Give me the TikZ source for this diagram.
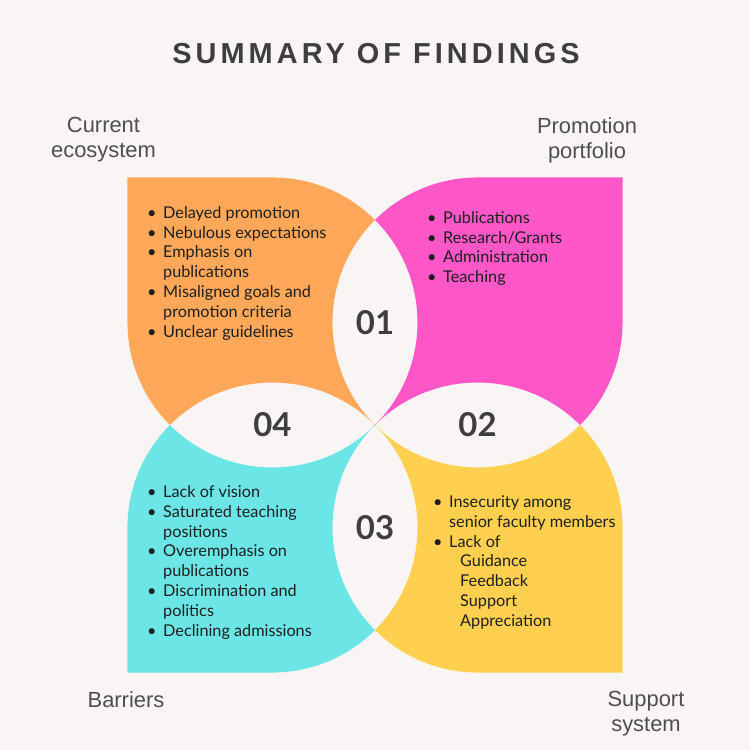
\documentclass[tikz,border=0pt]{standalone}
\usepackage{fontspec}
\setmainfont{Lato}
\newfontfamily\headfont[LetterSpace=14]{Liberation Sans}
\newfontfamily\labelfont{Liberation Sans}
\usepackage{tikz}
\usetikzlibrary{positioning}
\definecolor{PageBg}{RGB}{249,245,244}
\definecolor{PetalOrange}{RGB}{255,168,90}
\definecolor{PetalPink}{RGB}{255,87,199}
\definecolor{PetalYellow}{RGB}{255,208,79}
\definecolor{PetalCyan}{RGB}{108,229,231}
\definecolor{NumGray}{RGB}{62,62,62}
\definecolor{LabelGray}{RGB}{78,78,78}
\newcommand{\bl}{\makebox[16bp][l]{\textbullet}}
\newcommand{\ind}{\hspace*{16bp}}

\begin{document}
\begin{tikzpicture}[
  x=1bp, y=1bp,
  list/.style={anchor=north west, inner sep=0pt, align=left, text=black!88,
    font=\fontsize{16.3}{20}\selectfont},
  num/.style={inner sep=0pt, text=NumGray, font=\fontsize{33}{33}\selectfont\bfseries},
  lbl/.style={inner sep=0pt, align=center, text=LabelGray,
    font=\labelfont\fontsize{22}{25}\selectfont},
]
  \def\petalR{145}
  \def\petalA{102.53}
  \def\petalS{247.53}

  % page
  \fill[PageBg] (-375,-325) rectangle (375,425);
  \useasboundingbox (-375,-325) rectangle (375,425);

  % petals (orange one turned round the middle)
  \foreach \ang/\col in {0/PetalOrange, -90/PetalPink, -180/PetalYellow, 90/PetalCyan} {
    \fill[\col, rotate=\ang] (-\petalS,\petalS) -- (-\petalA,\petalS)
      arc[start angle=90, end angle=45, radius=\petalR]
      arc[start angle=135, end angle=225, radius=\petalR]
      arc[start angle=45, end angle=135, radius=\petalR]
      arc[start angle=225, end angle=180, radius=\petalR]
      -- cycle;
  }

  % title
  \node[inner sep=0pt, text=NumGray, font=\headfont\bfseries\fontsize{29}{29}\selectfont]
    (title) at (1,371.5) {SUMMARY OF FINDINGS};

  % numbers
  \node[num] (n01) at (0,\petalA) {01};
  \node[num] (n02) at (\petalA,0) {02};
  \node[num] (n03) at (0,-\petalA) {03};
  \node[num] (n04) at (-\petalA,0) {04};

  % corner labels
  \node[lbl] (current) at (-271.5,285) {Current\\ecosystem};
  \node[lbl] (portfolio) at (212,285) {Promotion\\portfolio};
  \node[lbl] (barriers) at (-249,-275) {Barriers};
  \node[lbl] (support) at (271,-288.5) {Support\\system};

  % lists
  \node[list] (ecolist) at (-228,221) {\strut\bl Delayed promotion\\
    \bl Nebulous expectations\\
    \bl Emphasis on\\
    \ind publications\\
    \bl Misaligned goals and\\
    \ind promotion criteria\\
    \bl Unclear guidelines};
  \node[list] (portlist) at (52,216) {\strut\bl Publications\\
    \bl Research/Grants\\
    \bl Administration\\
    \bl Teaching};
  \node[list] (barlist) at (-228,-58) {\strut\bl Lack of vision\\
    \bl Saturated teaching\\
    \ind positions\\
    \bl Overemphasis on\\
    \ind publications\\
    \bl Discrimination and\\
    \ind politics\\
    \bl Declining admissions};
  \node[list] (suplist) at (58,-68) {\strut\bl Insecurity among\\
    \ind senior faculty members\\
    \bl Lack of\\
    \hspace*{27bp}Guidance\\
    \hspace*{27bp}Feedback\\
    \hspace*{27bp}Support\\
    \hspace*{27bp}Appreciation};
\end{tikzpicture}
\end{document}
